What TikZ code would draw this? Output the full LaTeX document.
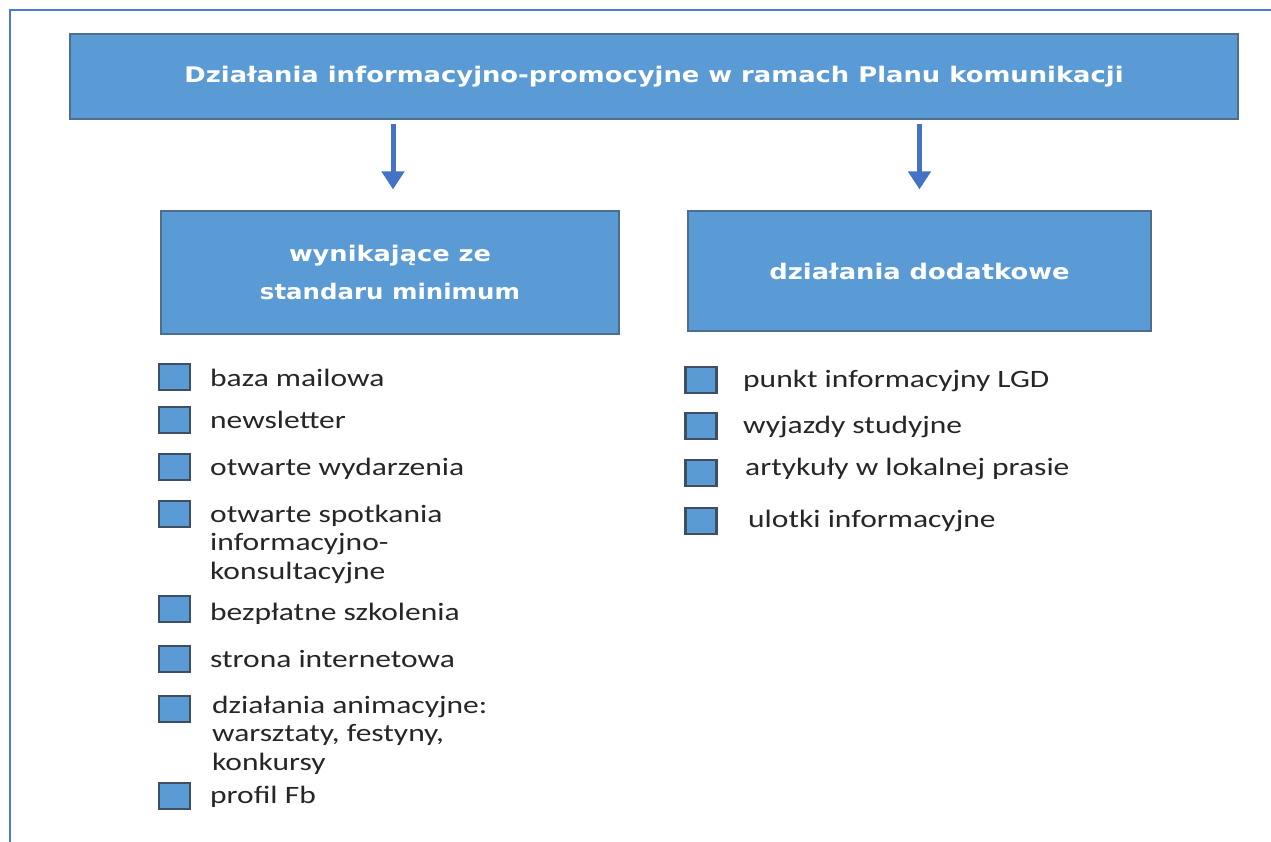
\documentclass[tikz,border=0pt]{standalone}
\usepackage{fontspec}
\usepackage{graphicx}
\setmainfont{Carlito}[FakeStretch=1.26]
\newfontfamily\hfont{DejaVu Sans}
\usetikzlibrary{arrows.meta}
\definecolor{boxfill}{HTML}{5B9BD5}
\definecolor{boxline}{HTML}{4E6E8E}
\definecolor{sqline}{HTML}{3F4F63}
\definecolor{arrcol}{HTML}{4472C4}
\definecolor{framecol}{HTML}{4A7BD0}
\definecolor{txt}{HTML}{262626}
\newcommand\fw[2]{\resizebox{#1pt}{\height}{#2}}
\newcommand\threelines[3]{\vtop{\hbox{#1}\hbox{#2}\hbox{#3}}}
\tikzset{
  bluebox/.style={draw=boxline, line width=1.2pt, fill=boxfill, inner sep=0pt,
    text=white, align=center, font=\hfont\bfseries\fontsize{21.5}{38}\selectfont},
  sqbox/.style={draw=sqline, fill=boxfill, line width=2.5pt, minimum width=31pt,
    minimum height=26pt, inner sep=0pt},
  itemtext/.style={anchor=base west, inner sep=0pt, text=txt,
    font=\fontsize{25}{28.8}\selectfont},
  arr/.style={draw=arrcol, line width=5pt, -{Triangle[width=22pt,length=18pt]}}
}
\begin{document}
\begin{tikzpicture}[x=1pt,y=-1pt]
\useasboundingbox (0,0) rectangle (1271,841);
\fill[white] (0,0) rectangle (1271,841);
% frame
\draw[framecol, line width=2pt] (10,845) -- (10,10) -- (1275,10);
% top box
\node[bluebox, minimum width=1168pt, minimum height=85pt] (top) at (654,76.5)
  {\fw{939}{Działania informacyjno-promocyjne w ramach Planu komunikacji}};
% second row boxes
\node[bluebox, minimum width=458pt, minimum height=123pt] (lbox) at (390,272.5)
  {\fw{202}{wynikające ze}\\\fw{260}{standaru minimum}};
\node[bluebox, minimum width=463pt, minimum height=120pt] (rbox) at (919.5,271)
  {\fw{300}{działania dodatkowe}};
% arrows
\draw[arr] ([yshift=-4pt]top.south -| 393,0) -- ([yshift=21pt]lbox.north -| 393,0);
\draw[arr] ([yshift=-4pt]top.south -| rbox.north) -- ([yshift=21pt]rbox.north);
% left list
\node[sqbox] (s1) at (174.5,377) {};
\node[itemtext] (t1) at (210,386) {baza mailowa};
\node[sqbox] (s2) at (174.5,420) {};
\node[itemtext] (t2) at (210,428) {newsletter};
\node[sqbox] (s3) at (174.5,467) {};
\node[itemtext] (t3) at (210,475) {otwarte wydarzenia};
\node[sqbox] (s4) at (174.5,514) {};
\node[itemtext] (t4) at (210,522) {\threelines{otwarte spotkania}{informacyjno-}{konsultacyjne}};
\node[sqbox] (s5) at (174.5,609) {};
\node[itemtext] (t5) at (210,620) {bezpłatne szkolenia};
\node[sqbox] (s6) at (174.5,659) {};
\node[itemtext] (t6) at (210,667) {strona internetowa};
\node[sqbox] (s7) at (174.5,709) {};
\node[itemtext] (t7) at (212,713) {\threelines{działania animacyjne:}{warsztaty, festyny,}{konkursy}};
\node[sqbox] (s8) at (174.5,796) {};
\node[itemtext] (t8) at (210,803) {profil Fb};
% right list
\node[sqbox] (r1) at (701,380) {};
\node[itemtext] (u1) at (743,387) {punkt informacyjny LGD};
\node[sqbox] (r2) at (701,426) {};
\node[itemtext] (u2) at (743,433) {wyjazdy studyjne};
\node[sqbox] (r3) at (701,473) {};
\node[itemtext] (u3) at (745,475) {artykuły w lokalnej prasie};
\node[sqbox] (r4) at (701,521) {};
\node[itemtext] (u4) at (748,527) {ulotki informacyjne};
\end{tikzpicture}
\end{document}
